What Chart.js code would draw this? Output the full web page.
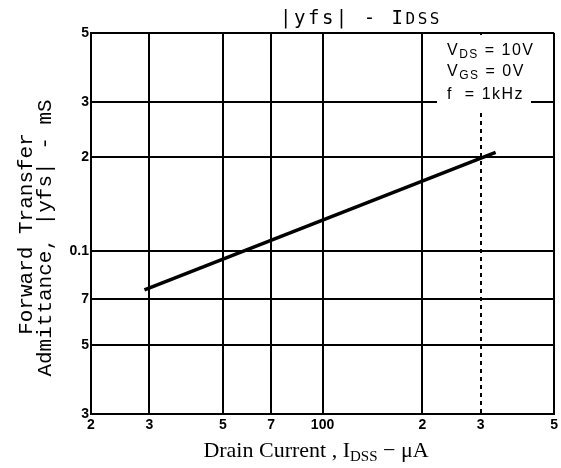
<!DOCTYPE html>
<html>
<head>
<meta charset="utf-8">
<script src="https://cdn.jsdelivr.net/npm/chart.js@4.4.1/dist/chart.umd.min.js"></script>
<style>
  html, body { margin: 0; padding: 0; background: #fff; }
  #wrap { width: 561px; height: 468px; }
</style>
</head>
<body>
<div id="wrap"><canvas id="yfsChart"></canvas></div>
<script>
// |yfs| - IDSS curve
const drainCurrent = [29, 333];      // µA
const admittance = [0.075, 0.207];   // mS

const xTicks = [20, 30, 50, 70, 100, 200, 300, 500];
const xTickLabels = ["2", "3", "5", "7", "100", "2", "3", "5"];
const yTicks = [0.03, 0.05, 0.07, 0.1, 0.2, 0.3, 0.5];
const yTickLabels = ["3", "5", "7", "0.1", "2", "3", "5"];

// draw a run of text with optional subscript parts
function drawRich(ctx, parts, x, y, size, family, align, spacing) {
  ctx.letterSpacing = (spacing || 0) + "px";
  let w = 0;
  parts.forEach((p) => {
    ctx.font = Math.round(size * (p.scale || 1)) + "px " + family;
    p.w = ctx.measureText(p.t).width;
    w += p.w;
  });
  let cx = align === "left" ? x : x - w / 2;
  parts.forEach((p) => {
    ctx.font = Math.round(size * (p.scale || 1)) + "px " + family;
    ctx.fillText(p.t, cx, y + (p.drop || 0));
    cx += p.w;
  });
  ctx.letterSpacing = "0px";
}

const textPlugin = {
  id: "sheetText",
  afterDraw(chart) {
    const ctx = chart.ctx;
    const area = chart.chartArea;
    ctx.save();
    ctx.fillStyle = "#000";
    ctx.textBaseline = "alphabetic";
    ctx.textAlign = "left";

    // title
    drawRich(ctx, [{ t: "|yfs| - I" }, { t: "DSS", scale: 0.85 }], 361, 24, 19,
      "'DejaVu Sans Mono'", "center", 2.5);

    // x title
    drawRich(ctx, [{ t: "Drain Current , I" }, { t: "DSS", scale: 0.7, drop: 4 }, { t: " \u2212 \u03bcA" }],
      316, 457, 22, "'Liberation Serif'");

    // y title (rotated, two lines)
    ctx.save();
    ctx.textAlign = "center";
    ctx.font = "21px 'Liberation Mono'";
    ctx.translate(0, 234);
    ctx.rotate(-Math.PI / 2);
    ctx.fillText("Forward Transfer", 0, 32);
    ctx.restore();
    ctx.save();
    ctx.textAlign = "center";
    ctx.font = "21px 'Liberation Mono'";
    ctx.translate(0, 238);
    ctx.rotate(-Math.PI / 2);
    ctx.fillText("Admittance, |yfs| - mS", 0, 51);
    ctx.restore();

    // conditions box
    ctx.fillStyle = "#fff";
    ctx.fillRect(437, area.top + 2, 94, 74);
    ctx.fillStyle = "#000";
    const fam = "'Liberation Sans'";
    drawRich(ctx, [{ t: "V" }, { t: "DS", scale: 0.75, drop: 3 }, { t: " = 10V" }], 447, 55, 16, fam, "left", 1.5);
    drawRich(ctx, [{ t: "V" }, { t: "GS", scale: 0.75, drop: 3 }, { t: " = 0V" }], 447, 76, 16, fam, "left", 1.5);
    drawRich(ctx, [{ t: "f  = 1kHz" }], 447, 99, 16, fam, "left", 1.5);
    ctx.restore();
  },
};

const ctx = document.getElementById("yfsChart").getContext("2d");

window.yfsChart = new Chart(ctx, {
  type: "line",
  data: {
    datasets: [
      {
        data: drainCurrent.map((x, i) => ({ x: x, y: admittance[i] })),
        borderColor: "#000",
        borderWidth: 3.5,
        pointRadius: 0,
        fill: false,
      },
    ],
  },
  options: {
    responsive: true,
    maintainAspectRatio: false,
    animation: false,
    layout: { padding: { left: 0, right: 4, top: 33, bottom: 0 } },
    scales: {
      x: {
        type: "logarithmic",
        min: 20,
        max: 500,
        afterBuildTicks: (scale) => {
          scale.ticks = xTicks.map((v) => ({ value: v }));
        },
        afterFit: (scale) => {
          scale.height = 54;
        },
        ticks: {
          autoSkip: false,
          maxRotation: 0,
          padding: 3,
          color: "#000",
          font: { family: "'Liberation Sans'", size: 14, weight: "bold" },
          callback: (v, i) => xTickLabels[i],
        },
        grid: { color: "#000", lineWidth: 2, drawTicks: false },
        border: {
          color: "#000",
          width: 2,
          dash: (c) => (c.tick && c.tick.value === 300 ? [4, 4] : []),
        },
      },
      y: {
        type: "logarithmic",
        min: 0.03,
        max: 0.5,
        afterBuildTicks: (scale) => {
          scale.ticks = yTicks.map((v) => ({ value: v }));
        },
        afterFit: (scale) => {
          scale.width = 91;
        },
        ticks: {
          autoSkip: false,
          padding: 2,
          color: "#000",
          font: { family: "'Liberation Sans'", size: 14, weight: "bold" },
          callback: (v, i) => yTickLabels[i],
        },
        grid: { color: "#000", lineWidth: 2, drawTicks: false },
        border: { color: "#000", width: 2 },
      },
    },
    plugins: {
      legend: { display: false },
      tooltip: { enabled: false },
    },
  },
  plugins: [textPlugin],
});
</script>
</body>
</html>
